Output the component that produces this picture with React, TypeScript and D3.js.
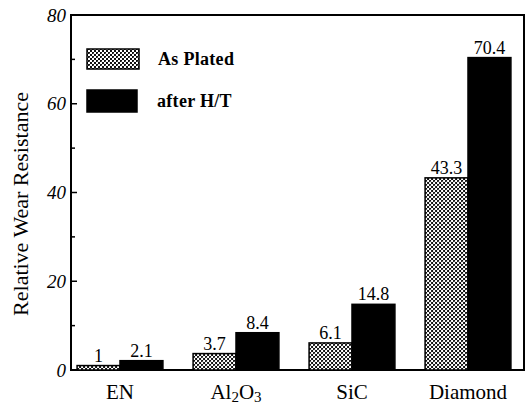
import React from "react";
import * as d3 from "d3";

const categories = ["EN", "Al2O3", "SiC", "Diamond"];
const series = ["As Plated", "after H/T"];
const asPlated = [1, 3.7, 6.1, 43.3];
const afterHT = [2.1, 8.4, 14.8, 70.4];
const labelsAsPlated = ["1", "3.7", "6.1", "43.3"];
const labelsAfterHT = ["2.1", "8.4", "14.8", "70.4"];
const yTicks = [0, 20, 40, 60, 80];
const yMinorTicks = [10, 30, 50, 70];

const W = 529;
const H = 416;
const left = 71;
const right = 524;
const top = 15;
const bottom = 370;

export default function App() {
  const y = d3.scaleLinear().domain([0, 80]).range([bottom, top]);
  const x0 = d3.scaleBand().domain(categories).range([62, 526]).paddingInner(0.26).paddingOuter(0.13);
  const x1 = d3.scaleBand().domain(series).range([0, x0.bandwidth()]).padding(0);
  const values = [asPlated, afterHT];
  const labels = [labelsAsPlated, labelsAfterHT];
  const fills = ["url(#hatch)", "#000"];
  const font = "'Liberation Serif', 'DejaVu Serif', serif";

  const catLabel = (c: string) => {
    if (c === "Al2O3") {
      return (
        <>
          Al<tspan fontSize={15} dy={3}>2</tspan>
          <tspan dy={-3}>O</tspan>
          <tspan fontSize={15} dy={3}>3</tspan>
        </>
      );
    }
    return c;
  };

  return (
    <svg width={W} height={H} style={{ position: "absolute", left: 0, top: 0, background: "#fff" }} fontFamily={font}>
      <defs>
        <pattern id="hatch" width={4} height={4} patternUnits="userSpaceOnUse">
          <rect width={4} height={4} fill="#fff" />
          <rect x={0} y={0} width={2} height={2} fill="#111" />
          <rect x={2} y={2} width={2} height={2} fill="#111" />
          <rect x={1} y={1} width={1} height={1} fill="#555" />
        </pattern>
      </defs>
      {/* frame */}
      <rect x={left} y={top} width={right - left} height={bottom - top} fill="none" stroke="#000" strokeWidth={2} />
      {/* y ticks */}
      {yTicks.map((t) => (
        <g key={t}>
          <line x1={left} x2={left + 6} y1={y(t)} y2={y(t)} stroke="#000" strokeWidth={1.5} />
          <text x={left - 5} y={y(t)} dy="0.35em" textAnchor="end" fontSize={19} fontStyle="italic">
            {t}
          </text>
        </g>
      ))}
      {yMinorTicks.map((t) => (
        <line key={t} x1={left} x2={left + 4} y1={y(t)} y2={y(t)} stroke="#000" strokeWidth={1.5} />
      ))}
      {/* bars */}
      {categories.map((c, i) => (
        <g key={c} transform={`translate(${x0(c)},0)`}>
          {series.map((s, j) => {
            const v = values[j][i];
            const bx = x1(s) as number;
            return (
              <g key={s}>
                <rect
                  x={bx}
                  y={y(v)}
                  width={x1.bandwidth()}
                  height={bottom - y(v)}
                  fill={fills[j]}
                  stroke="#000"
                  strokeWidth={1.5}
                />
                <text x={bx + x1.bandwidth() / 2} y={y(v) - 4} textAnchor="middle" fontSize={18}>
                  {labels[j][i]}
                </text>
              </g>
            );
          })}
          <text x={x0.bandwidth() / 2} y={399} textAnchor="middle" fontSize={21}>
            {catLabel(c)}
          </text>
        </g>
      ))}
      {/* y label */}
      <text transform={`translate(28,204) rotate(-90)`} textAnchor="middle" fontSize={22}>
        Relative Wear Resistance
      </text>
      {/* legend */}
      <rect x={87} y={49} width={52} height={20} fill="url(#hatch)" stroke="#000" strokeWidth={1.5} />
      <text x={158} y={65} fontSize={18} fontWeight="600" letterSpacing={0.3}>As  Plated</text>
      <rect x={87} y={90} width={50} height={22} fill="#000" stroke="#000" strokeWidth={1.5} />
      <text x={157} y={107} fontSize={18} fontWeight="600" letterSpacing={0.3}>after  H/T</text>
    </svg>
  );
}
